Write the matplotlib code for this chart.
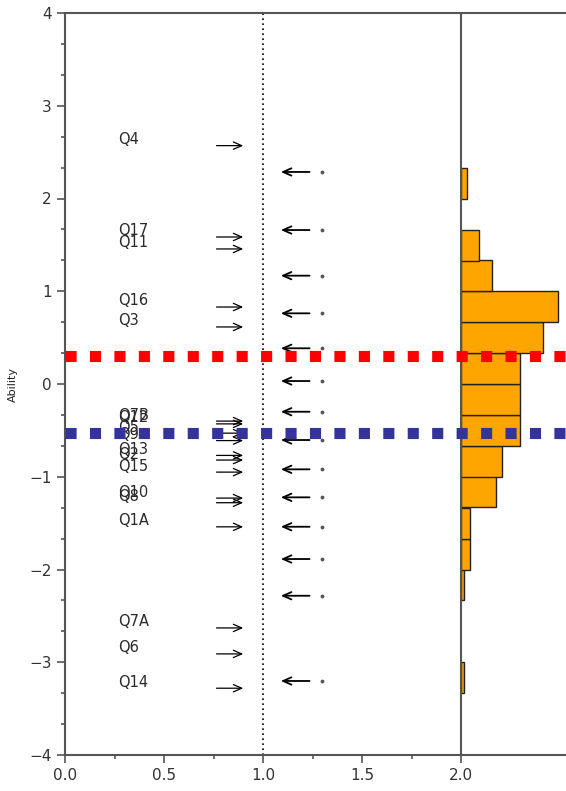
import matplotlib
matplotlib.use("Agg")
import matplotlib.pyplot as plt
import numpy as np

# Item locations on the ability scale (right-pointing arrows with labels)
item_names = ["Q4", "Q17", "Q11", "Q16", "Q3", "Q7B", "Q12", "Q5", "Q9",
              "Q13", "Q2", "Q15", "Q10", "Q8", "Q1A", "Q7A", "Q6", "Q14"]
item_ability = [2.57, 1.585, 1.456, 0.83, 0.615, -0.40, -0.43, -0.53, -0.61,
                -0.77, -0.82, -0.95, -1.23, -1.28, -1.54, -2.63, -2.91, -3.28]

# Person ability markers (left-pointing arrows)
person_ability = [2.286, 1.660, 1.168, 0.762, 0.385, 0.032, -0.299, -0.604,
                  -0.920, -1.222, -1.539, -1.887, -2.283, -3.202]

# Ability histogram: lower edge of each bin and its scaled frequency
bin_lower = [-3.33, -2.33, -2.0, -1.67, -1.33, -1.0, -0.67, -0.33,
             0.0, 0.33, 0.67, 1.0, 1.33, 2.0]
bin_freq = [0.017, 0.017, 0.045, 0.045, 0.177, 0.209, 0.298, 0.298,
            0.298, 0.413, 0.491, 0.155, 0.091, 0.032]

# Reference levels
upper_level = 0.30
lower_level = -0.53

fig = plt.figure(figsize=(5.66, 7.91), dpi=100)
ax = fig.add_axes([65 / 566, 36 / 791, 501 / 566, 742 / 791])

ax.set_xlim(0, 2.53)
ax.set_ylim(-4, 4)

# histogram bars hanging off the x=2 line
ax.barh(bin_lower, bin_freq, height=1 / 3, left=2.0, align="edge",
        color="#FFA500", edgecolor="#222222", linewidth=1.0, zorder=2)

ax.axvline(1.0, color="black", linestyle=(0, (1, 2)), linewidth=1.2, zorder=1)
ax.axvline(2.0, color="#555555", linewidth=1.5, zorder=3)

arrow = dict(arrowstyle="->,head_length=0.5,head_width=0.22", color="black",
             lw=0.9, shrinkA=0, shrinkB=0, mutation_scale=12)

for name, y in zip(item_names, item_ability):
    ax.annotate("", xy=(0.90, y), xytext=(0.765, y), arrowprops=arrow, zorder=4)
    ax.text(0.268, y + 0.065, name, fontsize=10.5, color="#2a2a2a",
            ha="left", va="center", family="DejaVu Sans")

arrow_left = dict(arrow, lw=1.3)
for y in person_ability:
    ax.annotate("", xy=(1.09, y), xytext=(1.235, y), arrowprops=arrow_left, zorder=4)
ax.scatter([1.30] * len(person_ability), person_ability, s=3, color="#555555", zorder=4)

# thick dotted reference lines
ax.axhline(upper_level, color="#FF0000", linewidth=8, linestyle=(0, (1, 1.2)),
           dash_capstyle="butt", zorder=6)
ax.axhline(lower_level, color="#333399", linewidth=8, linestyle=(0, (1, 1.2)),
           dash_capstyle="butt", zorder=6)

# axes styling
for side in ["left", "top", "bottom"]:
    ax.spines[side].set_color("#555555")
    ax.spines[side].set_linewidth(1.5)
ax.spines["right"].set_visible(False)

ax.set_xticks([0, 0.5, 1.0, 1.5, 2.0])
ax.set_xticklabels(["0.0", "0.5", "1.0", "1.5", "2.0"])
ax.set_xticks([0.25, 0.75, 1.25, 1.75], minor=True)
ax.set_yticks(np.arange(-4, 5))
ax.set_yticks([v / 3 for v in range(-11, 12) if v % 3 != 0], minor=True)

ax.tick_params(axis="both", which="major", length=6, width=1.2, color="#555555",
               labelsize=11, labelcolor="#333333")
ax.tick_params(axis="both", which="minor", length=3, width=1.2, color="#555555")

ax.set_ylabel("Ability", fontsize=8, color="#222222", labelpad=8)

fig.savefig("out.png", dpi=100)
